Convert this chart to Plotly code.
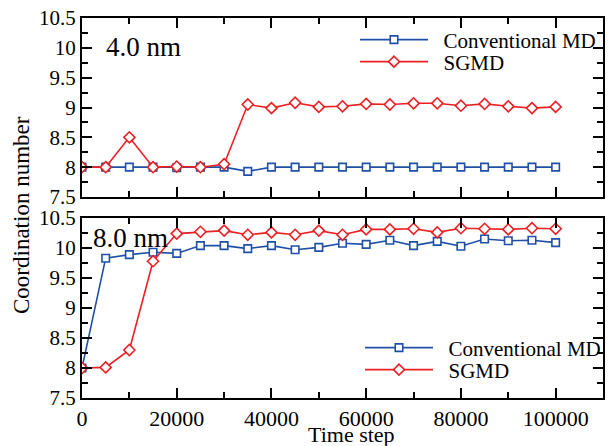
import plotly.graph_objects as go

time_steps = [0, 5000, 10000, 15000, 20000, 25000, 30000, 35000, 40000, 45000, 50000,
              55000, 60000, 65000, 70000, 75000, 80000, 85000, 90000, 95000, 100000]

md_4nm = [8.0, 8.0, 8.0, 8.0, 7.99, 8.0, 8.0, 7.93, 8.0, 8.0, 8.0,
          8.0, 8.0, 8.0, 8.0, 8.0, 8.0, 8.0, 8.0, 8.0, 8.0]
sgmd_4nm = [8.0, 8.0, 8.5, 8.0, 8.01, 8.0, 8.05, 9.05, 8.99, 9.08, 9.01,
            9.02, 9.06, 9.05, 9.07, 9.07, 9.03, 9.06, 9.02, 8.99, 9.01]

md_8nm = [8.0, 9.83, 9.89, 9.93, 9.91, 10.04, 10.04, 9.99, 10.04, 9.97, 10.01,
          10.08, 10.06, 10.13, 10.04, 10.11, 10.03, 10.15, 10.12, 10.13, 10.09]
sgmd_8nm = [8.0, 8.01, 8.3, 9.78, 10.24, 10.27, 10.29, 10.22, 10.26, 10.22, 10.29,
            10.22, 10.31, 10.31, 10.32, 10.26, 10.33, 10.32, 10.31, 10.33, 10.32]

x_ticks = [0, 20000, 40000, 60000, 80000, 100000]
x_tick_text = ["0", "20000", "40000", "60000", "80000", "100000"]
y_ticks = [7.5, 8, 8.5, 9, 9.5, 10, 10.5]
y_tick_text = ["7.5", "8", "8.5", "9", "9.5", "10", "10.5"]

BLUE = "#1f4fa6"
RED = "#ec2024"
FONT = "Liberation Serif, Times New Roman, Times, serif"

W, H = 609, 446
L, R, T, B = 82, 6, 18, 48
PW, PH = W - L - R, H - T - B


def px(xp):
    return (xp - L) / PW


def py(yp):
    return (H - B - yp) / PH


fig = go.Figure()

GAP = "\u00a0\u00a0"

def add(xs, ys, name, color, symbol, size, xa, ya, legend):
    fig.add_trace(go.Scatter(
        x=xs, y=ys, name=GAP + name, mode="lines+markers",
        line=dict(color=color, width=1.6),
        marker=dict(symbol=symbol, size=size, color="white",
                    line=dict(color=color, width=1.6)),
        xaxis=xa, yaxis=ya, legend=legend, showlegend=True,
    ))

add(time_steps, md_4nm, "Conventional MD", BLUE, "square", 7.5, "x", "y", "legend")
add(time_steps, sgmd_4nm, "SGMD", RED, "diamond", 8.5, "x", "y", "legend2")
add(time_steps, md_8nm, "Conventional MD", BLUE, "square", 7.5, "x2", "y2", "legend3")
add(time_steps, sgmd_8nm, "SGMD", RED, "diamond", 8.5, "x2", "y2", "legend4")

axis_common = dict(
    showline=True, linecolor="black", linewidth=2, mirror="allticks",
    ticks="inside", ticklen=10, tickwidth=2, tickcolor="black",
    showgrid=False, zeroline=False, automargin=False,
    tickfont=dict(family=FONT, size=21, color="black"),
)

xcommon = dict(axis_common, range=[0, 110000], tickmode="array", tickvals=x_ticks,
               ticktext=x_tick_text,
               tickfont=dict(family=FONT, size=22, color="black"),
               minor=dict(dtick=10000, tick0=0, ticks="inside", ticklen=6,
                          tickwidth=2, tickcolor="black", showgrid=False))
ycommon = dict(axis_common, range=[7.5, 10.5], tickmode="array", tickvals=y_ticks,
               ticktext=y_tick_text,
               minor=dict(dtick=0.25, tick0=7.5, ticks="inside", ticklen=6,
                          tickwidth=2, tickcolor="black", showgrid=False))

top_lo = py(197)
bot_hi = py(218)

leg_common = dict(bgcolor="rgba(0,0,0,0)", borderwidth=0, xanchor="left",
                  yanchor="middle", itemwidth=68,
                  font=dict(family=FONT, size=21, color="black"))

fig.update_layout(
    width=W, height=H,
    margin=dict(l=L, r=R, t=T, b=B, autoexpand=False),
    paper_bgcolor="white", plot_bgcolor="white",
    font=dict(family=FONT, color="black"),
    xaxis=dict(xcommon, anchor="y", showticklabels=False, domain=[0, 1]),
    yaxis=dict(ycommon, anchor="x", domain=[top_lo, 1]),
    xaxis2=dict(xcommon, anchor="y2", matches="x", domain=[0, 1]),
    yaxis2=dict(ycommon, anchor="x2", domain=[0, bot_hi]),
    legend=dict(leg_common, x=px(355), y=py(40)),
    legend2=dict(leg_common, x=px(355), y=py(62)),
    legend3=dict(leg_common, x=px(360), y=py(348)),
    legend4=dict(leg_common, x=px(360), y=py(370)),
    showlegend=True,
    annotations=[
        dict(text="Coordination number", xref="paper", yref="paper",
             x=px(22), y=py(215), textangle=-90, showarrow=False,
             xanchor="center", yanchor="middle",
             font=dict(family=FONT, size=23, color="black")),
        dict(text="Time step", xref="paper", yref="paper",
             x=px(351), y=py(434), showarrow=False,
             xanchor="center", yanchor="middle",
             font=dict(family=FONT, size=22, color="black")),
        dict(text="4.0 nm", xref="paper", yref="paper",
             x=px(104), y=py(47), showarrow=False, xanchor="left", yanchor="middle",
             font=dict(family=FONT, size=27, color="black")),
        dict(text="8.0 nm", xref="paper", yref="paper",
             x=px(91), y=py(238), showarrow=False, xanchor="left", yanchor="middle",
             font=dict(family=FONT, size=27, color="black")),
    ],
)

fig.write_html("out.html", config={"displayModeBar": False})
with open("out.html", encoding="utf-8") as f:
    html = f.read()
style = ("<style>html,body{margin:0;padding:0;overflow:hidden;"
         "font-family:'Liberation Serif','Times New Roman',serif;}</style>")
html = html.replace("<head>", "<head>" + style, 1)
preload = ("<div style=\"position:absolute;left:0;top:0;opacity:0;pointer-events:none;"
           "font-family:'Liberation Serif',serif;font-size:21px\">Coordination number "
           "Time step Conventional MD SGMD 0123456789.</div>")
html = html.replace("<body>", "<body>" + preload, 1)
with open("out.html", "w", encoding="utf-8") as f:
    f.write(html)
